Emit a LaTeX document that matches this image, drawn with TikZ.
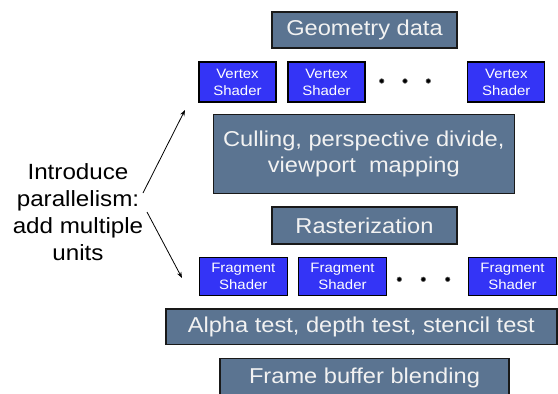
\documentclass[tikz,border=0pt]{standalone}
\usepackage{fontspec}
\setmainfont{Liberation Sans}
\usetikzlibrary{arrows.meta}
\definecolor{slate}{RGB}{91,116,145}
\definecolor{vblue}{RGB}{52,52,246}
\tikzset{
  stagebox/.style={draw=black!90, line width=1.4pt, fill=slate, text=white!95!black, inner sep=0pt,
    font=\fontsize{21.5}{26}\selectfont, align=center},
  unitbox/.style={draw=black, line width=1.3pt, fill=vblue, text=white, inner sep=0pt,
    font=\fontsize{13.6}{17}\selectfont, align=center},
  gdot/.style={circle, fill=black, draw=black!60, line width=0.6pt, inner sep=0pt, minimum size=4.6pt},
  conn/.style={line width=0.8pt, -{Stealth[length=6pt,width=4.5pt]}}
}
\newcommand{\sx}[1]{\scalebox{1.1}[1]{#1}}
\begin{document}
\begin{tikzpicture}[x=1pt,y=-1pt]
\useasboundingbox (0,0) rectangle (558,394);
\clip (0,0) rectangle (558,394);
% stages
\node[stagebox, minimum width=185pt, minimum height=36pt] (geo) at (364.5,30) {\sx{Geometry data}};
\node[unitbox, minimum width=77pt, minimum height=40pt] (vs1) at (237.5,82) {\sx{Vertex}\\\sx{Shader}};
\node[unitbox, minimum width=77pt, minimum height=40pt] (vs2) at (326.5,82) {\sx{Vertex}\\\sx{Shader}};
\node[unitbox, minimum width=77pt, minimum height=40pt] (vs3) at (506.3,82) {\sx{Vertex}\\\sx{Shader}};
\node[gdot] (vd1) at (381.7,81) {};
\node[gdot] (vd2) at (405,81) {};
\node[gdot] (vd3) at (428.3,81) {};
\node[stagebox, minimum width=301pt, minimum height=79pt] (cull) at (363.8,153.8) {\sx{Culling, perspective divide,}\\\sx{viewport\ \ mapping}};
\node[stagebox, minimum width=185pt, minimum height=37pt] (rast) at (364.5,225.5) {\sx{Rasterization}};
\node[unitbox, minimum width=88pt, minimum height=38pt] (fs1) at (243.3,276.7) {\sx{Fragment}\\\sx{Shader}};
\node[unitbox, minimum width=88pt, minimum height=38pt] (fs2) at (342.5,276.7) {\sx{Fragment}\\\sx{Shader}};
\node[unitbox, minimum width=88pt, minimum height=38pt] (fs3) at (512.5,276.7) {\sx{Fragment}\\\sx{Shader}};
\node[gdot] (fd1) at (399.3,279.3) {};
\node[gdot] (fd2) at (423.3,279.3) {};
\node[gdot] (fd3) at (447.7,279.3) {};
\node[stagebox, minimum width=391pt, minimum height=35.3pt] (alpha) at (361.3,326.7) {\sx{Alpha test, depth test, stencil test}};
\node[stagebox, minimum width=289pt, minimum height=38.7pt] (frame) at (364.5,377.7) {\sx{Frame buffer blending}};
% side note
\node[align=center, font=\fontsize{22}{26.8}\selectfont, inner sep=0pt] (intro) at (78,212) {\sx{Introduce}\\\sx{parallelism:}\\\sx{add multiple}\\\sx{units}};
\coordinate (upS) at (143,193);
\coordinate (upE) at (185,110);
\coordinate (dnS) at (147,212);
\coordinate (dnE) at (182,278);
\draw[conn] (upS) -- (upE);
\draw[conn] (dnS) -- (dnE);
\end{tikzpicture}
\end{document}
